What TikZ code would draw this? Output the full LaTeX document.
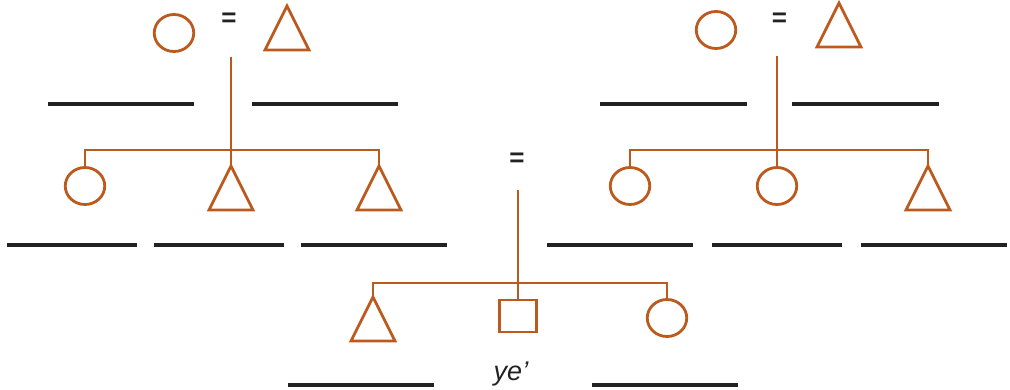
\documentclass[tikz,border=0pt]{standalone}
\usepackage{fontspec}
\setmainfont{Liberation Sans}
\usetikzlibrary{shapes.geometric}
\definecolor{kcol}{RGB}{188,90,30}
\definecolor{lcol}{RGB}{34,34,34}
\tikzset{
  kin/.style={draw=kcol, line width=2.8pt, inner sep=0pt, outer sep=0pt},
  fem/.style={kin, ellipse, minimum width=39.5pt, minimum height=37pt},
  mal/.style={kin, isosceles triangle, isosceles triangle stretches, shape border rotate=90, minimum width=44pt, minimum height=44pt},
  ego/.style={kin, rectangle, minimum width=37.5pt, minimum height=32pt},
  link/.style={draw=kcol, line width=2.8pt},
  blank/.style={draw=lcol, line width=3.2pt},
  eqsign/.style={inner sep=0pt, text=lcol, font=\fontsize{26}{26}\selectfont\bfseries},
  termlabel/.style={inner sep=0pt, text=lcol, font=\fontsize{27}{27}\selectfont\itshape}
}
\begin{document}
\begin{tikzpicture}[x=1pt,y=-1pt]
\useasboundingbox (0,0) rectangle (1010,390);
% top-left family
\node[fem] (lm) at (174,33) {};
\node[eqsign] (leq) at (229,20) {=};
\node[mal, anchor=north] (lf) at (287,6) {};
\coordinate (ltop) at (231,57);
\coordinate (lbar) at (231,150);
\node[fem] (lc1) at (85,186) {};
\node[mal, anchor=north] (lt2) at (231,166) {};
\node[mal, anchor=north] (lt3) at (379,166) {};
\draw[link] (ltop) -- (lt2.north);
\draw[link] (lc1.north) |- (lbar) -| (lt3.north);
% top-right family
\node[fem] (rm) at (716,30) {};
\node[eqsign] (req) at (779.5,19.5) {=};
\node[mal, anchor=north] (rf) at (839,3) {};
\coordinate (rtop) at (777,56);
\coordinate (rbar) at (777,150);
\node[fem] (rc1) at (630,186) {};
\node[fem] (rc2) at (777,186) {};
\node[mal, anchor=north] (rt3) at (928,166) {};
\draw[link] (rtop) -- (rc2.north);
\draw[link] (rc1.north) |- (rbar) -| (rt3.north);
% middle marriage and ego's siblings
\node[eqsign] (meq) at (517,159.5) {=};
\coordinate (mtop) at (518,190);
\coordinate (mbar) at (518,283);
\node[mal, anchor=north] (bt) at (373,297) {};
\node[ego] (sq) at (518,316) {};
\node[fem] (bc) at (667,318) {};
\draw[link] (mtop) -- (sq.north);
\draw[link] (bt.north) |- (mbar) -| (bc.north);
\node[termlabel, anchor=base] (ye) at (511,380) {ye’};
% blanks
\foreach \a/\b in {48/194, 252/398, 600/747, 792/939}
  \draw[blank] (\a,104) -- (\b,104);
\foreach \a/\b in {7/137, 154/284, 301/447, 547/693, 712/842, 861/1007}
  \draw[blank] (\a,245) -- (\b,245);
\foreach \a/\b in {288/434, 592/738}
  \draw[blank] (\a,385) -- (\b,385);
\end{tikzpicture}
\end{document}
